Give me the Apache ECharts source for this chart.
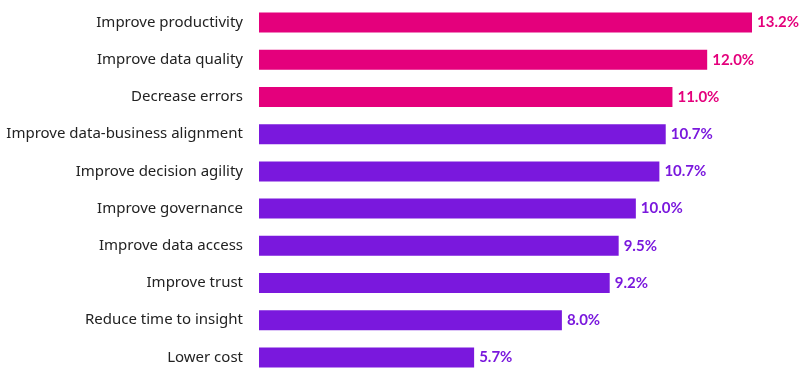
<!DOCTYPE html>
<html>
<head>
<meta charset="utf-8">
<script src="https://cdn.jsdelivr.net/npm/echarts@6/dist/echarts.min.js"></script>
<style>
  html, body { margin: 0; padding: 0; background: #fff; }
  #chart { width: 800px; height: 377px; }
</style>
</head>
<body>
<div id="chart"></div>
<script>
// categories top to bottom
const categories = [
  'Improve productivity',
  'Improve data quality',
  'Decrease errors',
  'Improve data-business alignment',
  'Improve decision agility',
  'Improve governance',
  'Improve data access',
  'Improve trust',
  'Reduce time to insight',
  'Lower cost'
];
// bar lengths (percent)
const values = [13.2, 12.0, 11.07, 10.89, 10.72, 10.09, 9.63, 9.39, 8.11, 5.76];
// printed labels
const valueLabels = ['13.2%', '12.0%', '11.0%', '10.7%', '10.7%', '10.0%', '9.5%', '9.2%', '8.0%', '5.7%'];
// top three are highlighted in pink
const highlightCount = 3;

const PINK = '#E4007C';
const PURPLE = '#7A18DD';

const chart = echarts.init(document.getElementById('chart'));

const option = {
  animation: false,
  grid: { left: 259, right: 48, top: 4, bottom: 1, containLabel: false },
  xAxis: {
    type: 'value',
    min: 0,
    max: 13.2,
    show: false
  },
  yAxis: {
    type: 'category',
    data: categories,
    inverse: true,
    axisLine: { show: false },
    axisTick: { show: false },
    axisLabel: {
      margin: 16,
      color: '#222',
      fontSize: 15,
      fontFamily: '"Noto Sans", sans-serif'
    }
  },
  series: [
    {
      type: 'bar',
      barWidth: 20,
      data: values.map((v, i) => ({
        value: v,
        itemStyle: { color: i < highlightCount ? PINK : PURPLE },
        label: { color: i < highlightCount ? PINK : PURPLE }
      })),
      label: {
        show: true,
        position: 'right',
        distance: 5,
        fontSize: 15,
        fontWeight: 'bold',
        fontFamily: 'Lato, "Noto Sans", sans-serif',
        formatter: (p) => valueLabels[p.dataIndex]
      }
    }
  ]
};

chart.setOption(option);
</script>
</body>
</html>
